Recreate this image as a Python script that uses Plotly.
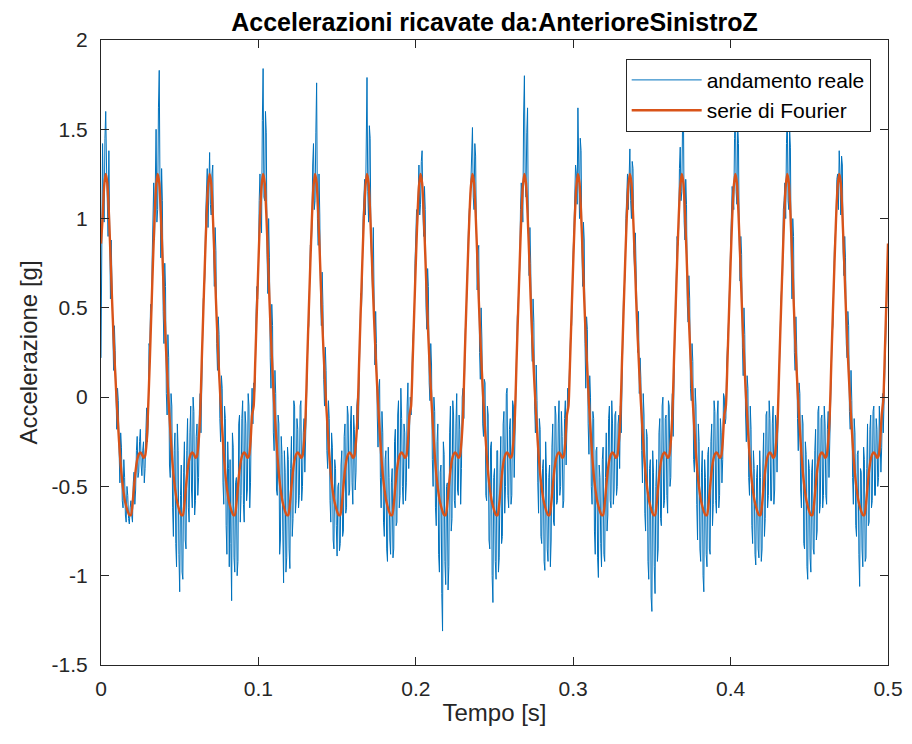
import numpy as np
import plotly.graph_objects as go

# ---------------- data ----------------
# measured signal: 1001 samples, 0.5 ms apart (0 .. 0.5 s)
time_real = np.linspace(0.0, 0.5, 1001)
# Fourier series: 501 samples, 1 ms apart
time_fourier = np.linspace(0.0, 0.5, 501)

# "andamento reale" (g), written cycle by cycle
real_c00 = [0.22, 0.95, 1.42, 1.10, 0.98, 1.45, 1.60, 1.30, 1.05, 0.90, 1.38, 1.02, 0.55, 0.88, 0.70, 0.38, 0.15, 0.40, 0.26, -0.05,
            -0.18, 0.05, -0.02, -0.30, -0.48, -0.20, -0.28, -0.58, -0.62, -0.35, -0.45, -0.66, -0.70, -0.50, -0.55, -0.68, -0.71, -0.62, -0.58, -0.66,
            -0.70, -0.48, -0.42, -0.60, -0.52, -0.30, -0.22, -0.45, -0.42, -0.25, -0.18, -0.38, -0.44, -0.30, -0.25, -0.48, -0.40, -0.20, -0.06, -0.25]
real_c01 = [-0.15, 0.30, 0.28, 0.52, 0.40, 0.78, 0.95, 1.20, 0.88, 1.32, 1.50, 0.98, 1.05, 1.62, 1.83, 1.15, 0.78, 1.28, 1.10, 0.48,
            0.30, 0.75, 0.62, 0.02, -0.10, 0.35, 0.22, -0.38, -0.45, 0.02, -0.05, -0.62, -0.78, -0.30, -0.20, -0.82, -0.95, -0.15, -0.30, -0.88,
            -1.09, -0.55, -0.38, -0.98, -1.02, -0.42, -0.25, -0.80, -0.85, -0.30, -0.12, -0.62, -0.70, -0.20, -0.05, -0.52, -0.62, 0.00, -0.08, -0.66,
            -0.58, -0.22, -0.15, -0.55, -0.45, -0.08, 0.02, -0.20]
real_c02 = [0.12, 0.40, 0.55, 0.58, 0.68, 1.02, 1.12, 1.28, 0.95, 1.15, 1.37, 1.08, 1.02, 1.25, 1.30, 0.85, 0.62, 0.95, 0.82, 0.30,
            0.15, 0.45, 0.35, -0.12, -0.25, 0.12, 0.05, -0.48, -0.60, -0.05, -0.12, -0.72, -0.88, -0.25, -0.40, -0.95, -0.35, -0.82, -1.14, -0.20,
            -0.28, -0.90, -0.98, -0.48, -0.45, -1.00, -0.92, -0.15, -0.10, -0.70, -0.55, -0.12, -0.02, -0.60, -0.70, -0.08, -0.15, -0.58, -0.52, 0.02,
            -0.05, -0.62, -0.48, -0.10, 0.05, -0.15]
real_c03 = [0.08, 0.02, 0.10, 0.45, 0.62, 0.55, 0.70, 1.10, 1.25, 1.05, 0.92, 1.55, 1.84, 1.12, 1.10, 1.60, 1.48, 0.80, 0.58, 1.00,
            0.78, 0.22, 0.05, 0.52, 0.40, -0.20, -0.30, 0.15, 0.02, -0.52, -0.55, -0.10, -0.15, -0.88, -0.80, -0.22, -0.32, -0.75, -1.04, -0.30,
            -0.42, -0.98, -0.90, -0.28, -0.35, -0.85, -0.96, -0.40, -0.22, -0.78, -0.68, -0.02, -0.05, -0.65, -0.58, -0.12, -0.18, -0.62, -0.55, -0.05,
            -0.02, -0.58, -0.50, -0.20, -0.12, -0.42, -0.20, 0.05]
real_c04 = [0.25, 0.35, 0.40, 0.72, 0.85, 0.82, 0.95, 1.30, 1.42, 1.05, 1.10, 1.48, 1.76, 1.00, 0.85, 1.25, 1.02, 0.55, 0.40, 0.70,
            0.52, 0.10, -0.05, 0.28, 0.15, -0.30, -0.40, -0.02, -0.12, -0.58, -0.70, -0.20, -0.28, -0.80, -0.85, -0.35, -0.40, -0.72, -0.89, -0.50,
            -0.48, -0.86, -0.82, -0.38, -0.30, -0.78, -0.75, -0.22, -0.15, -0.65, -0.62, -0.05, -0.10, -0.55, -0.52, -0.15, -0.05, -0.48, -0.60, -0.10,
            -0.18, -0.52, -0.42, -0.05, 0.00, -0.18]
real_c05 = [0.15, 0.42, 0.58, 0.50, 0.66, 1.00, 1.15, 1.22, 1.02, 1.38, 1.79, 1.15, 0.98, 1.52, 1.45, 0.88, 0.70, 0.60, 0.95, 0.28,
            0.18, 0.48, 0.30, -0.10, -0.28, 0.05, 0.10, -0.45, -0.62, -0.08, -0.20, -0.70, -0.78, -0.35, -0.30, -0.85, -0.92, -0.28, -0.45, -0.80,
            -0.88, -0.48, -0.40, -0.90, -0.85, -0.25, -0.18, -0.72, -0.70, -0.10, -0.02, -0.62, -0.55, 0.05, -0.12, -0.50, -0.60, -0.15, -0.20, -0.58,
            -0.48, -0.05, 0.08, -0.40, -0.25, 0.00]
real_c06 = [-0.10, 0.15, 0.30, 0.38, 0.42, 0.75, 0.88, 1.05, 0.92, 1.22, 1.30, 1.02, 1.08, 1.32, 1.38, 1.05, 0.90, 1.18, 1.05, 0.50,
            0.38, 0.72, 0.62, 0.08, -0.02, 0.30, 0.18, -0.35, -0.50, 0.00, -0.08, -0.62, -0.72, -0.25, -0.15, -0.88, -0.98, -0.42, -0.38, -1.10,
            -1.31, -0.25, -0.32, -0.92, -1.05, -0.50, -0.48, -1.08, -0.95, -0.20, -0.05, -0.75, -0.68, -0.02, -0.10, -0.58, -0.62, -0.15, 0.02, -0.52,
            -0.55, -0.10, -0.18, -0.60, -0.40, 0.00, 0.05, -0.12]
real_c07 = [0.22, 0.38, 0.45, 0.65, 0.80, 0.95, 1.05, 1.10, 1.20, 1.35, 1.51, 1.12, 1.05, 1.42, 1.35, 0.92, 0.60, 0.82, 0.85, 0.25,
            0.10, 0.50, 0.32, -0.15, -0.22, 0.10, 0.08, -0.55, -0.58, -0.05, -0.10, -0.80, -0.85, -0.28, -0.25, -1.00, -1.15, -0.45, -0.40, -0.92,
            -1.02, -0.30, -0.30, -0.98, -0.90, -0.42, -0.22, -0.82, -0.78, -0.15, -0.08, -0.65, -0.50, 0.02, 0.05, -0.55, -0.62, -0.18, -0.12, -0.60,
            -0.55, -0.02, -0.05, -0.45, -0.22, 0.08]
real_c08 = [0.18, 0.45, 0.52, 0.60, 0.72, 1.05, 1.20, 1.12, 0.98, 1.58, 1.80, 1.20, 1.12, 1.48, 1.62, 0.95, 0.68, 0.95, 0.75, 0.35,
            0.20, 0.55, 0.42, -0.05, -0.20, 0.18, -0.02, -0.48, -0.65, -0.12, -0.18, -0.78, -0.82, -0.40, -0.35, -0.92, -0.97, -0.25, -0.42, -0.85,
            -0.92, -0.45, -0.38, -0.95, -0.80, -0.28, -0.15, -0.70, -0.72, -0.05, -0.10, -0.60, -0.58, -0.15, -0.02, -0.55, -0.50, -0.08, -0.22, -0.62,
            -0.58, -0.12, -0.02, -0.38, -0.18, 0.05]
real_c09 = [-0.02, 0.12, 0.28, 0.40, 0.40, 0.70, 0.82, 0.95, 1.10, 1.30, 1.25, 1.08, 1.62, 1.22, 1.00, 1.45, 1.38, 0.85, 0.62, 0.98,
            0.88, 0.30, 0.05, 0.45, 0.38, -0.15, -0.32, 0.12, 0.00, -0.50, -0.60, -0.08, -0.12, -0.75, -0.88, -0.30, -0.28, -0.90, -1.01, -0.38,
            -0.45, -0.82, -0.95, -0.35, -0.28, -0.88, -0.92, -0.45, -0.20, -0.75, -0.66, -0.12, -0.05, -0.58, -0.62, -0.02, -0.15, -0.60, -0.52, -0.10,
            -0.08, -0.55, -0.50, -0.15, -0.10, -0.40, -0.05, -0.20]
real_c10 = [0.12, 0.42, 0.58, 0.62, 0.70, 1.00, 1.12, 1.25, 1.05, 1.30, 1.39, 1.10, 1.00, 1.32, 1.28, 0.82, 0.72, 0.92, 0.65, 0.30,
            0.25, 0.48, 0.02, 0.22, 0.10, -0.30, -0.48, 0.02, -0.10, -0.65, -0.75, -0.18, -0.22, -0.92, -1.02, -0.40, -0.35, -1.12, -1.20, -0.30,
            -0.42, -0.95, -1.10, -0.50, -0.35, -0.92, -0.85, -0.20, -0.12, -0.68, -0.72, -0.05, 0.00, -0.62, -0.58, -0.12, -0.10, -0.55, -0.65, -0.02,
            -0.05, -0.50, -0.45, -0.10, 0.02, -0.22]
real_c11 = [0.25, 0.32, 0.42, 0.75, 0.90, 0.85, 0.95, 1.28, 1.40, 1.10, 1.15, 1.55, 1.65, 0.98, 0.88, 1.22, 1.08, 0.52, 0.42, 0.68,
            0.55, 0.05, -0.02, 0.30, 0.20, -0.35, -0.42, 0.05, -0.05, -0.60, -0.80, -0.15, -0.25, -0.85, -0.92, -0.42, -0.30, -1.00, -1.09, -0.35,
            -0.45, -0.88, -0.95, -0.32, -0.28, -0.85, -0.88, -0.25, -0.15, -0.72, -0.60, -0.02, -0.08, -0.58, -0.65, -0.10, -0.02, -0.62, -0.55, -0.12,
            -0.20, -0.48, -0.35, 0.02, 0.00, -0.15]
real_c12 = [-0.12, 0.18, 0.25, 0.38, 0.50, 0.68, 0.72, 1.02, 1.18, 1.12, 1.05, 1.45, 1.70, 1.15, 1.08, 1.52, 1.42, 0.88, 0.65, 0.90,
            0.80, 0.28, 0.12, 0.50, 0.35, -0.10, -0.25, 0.12, 0.05, -0.45, -0.55, -0.05, -0.18, -0.72, -0.82, -0.30, -0.40, -0.88, -0.94, -0.45,
            -0.38, -0.85, -0.90, -0.30, -0.45, -0.92, -0.85, -0.38, -0.20, -0.78, -0.68, -0.10, -0.08, -0.62, -0.55, -0.02, -0.12, -0.58, -0.58, -0.15,
            -0.05, -0.60, -0.52, -0.10, -0.15, -0.42, -0.08, 0.05]
real_c13 = [0.15, 0.40, 0.55, 0.62, 0.68, 1.05, 1.10, 1.20, 1.00, 1.42, 1.62, 1.10, 1.05, 1.50, 1.40, 0.78, 0.55, 1.00, 0.90, 0.25,
            0.15, 0.45, 0.28, -0.12, -0.30, 0.08, 0.02, -0.52, -0.62, -0.10, -0.15, -0.82, -0.85, -0.25, -0.32, -0.95, -1.02, -0.35, -0.40, -0.90,
            -0.98, -0.42, -0.35, -0.85, -0.88, -0.30, -0.18, -0.80, -0.75, -0.08, -0.05, -0.65, -0.60, -0.12, -0.10, -0.62, -0.55, -0.05, -0.15, -0.55,
            -0.60, -0.18, -0.08, -0.45, -0.20, 0.02]
real_c14 = [0.28, 0.35, 0.40, 0.70, 0.85, 0.90, 0.98, 1.22, 1.25, 1.05, 1.38, 1.25, 1.02, 1.35, 1.30, 0.82, 0.68, 0.90, 0.78, 0.30,
            0.22, 0.48, 0.40, -0.08, -0.18, 0.15, -0.02, -0.45, -0.60, -0.12, -0.20, -0.72, -0.78, -0.32, -0.30, -0.88, -1.06, -0.40, -0.42, -0.85,
            -0.95, -0.28, -0.35, -0.92, -0.90, -0.40, -0.15, -0.72, -0.70, -0.18, -0.10, -0.62, -0.58, -0.08, -0.05, -0.55, -0.55, -0.12, -0.18, -0.50,
            -0.45, -0.05, -0.22, -0.42, -0.28, 0.02]
real_tail = [-0.20, 0.05, 0.15, 0.30, 0.45, 0.62, 0.80]

# "serie di Fourier" (g), cycle by cycle
four_c00 = [0.86, 1.00, 1.18, 1.25, 1.20, 1.03, 0.80, 0.55, 0.33, 0.14, -0.03, -0.18, -0.32, -0.43, -0.51, -0.57, -0.61, -0.64, -0.66, -0.66, -0.60, -0.50, -0.41, -0.35, -0.32, -0.31, -0.32, -0.34, -0.33, -0.25]
four_c01 = [-0.05, 0.20, 0.48, 0.75, 1.00, 1.18, 1.25, 1.20, 1.03, 0.80, 0.55, 0.33, 0.14, -0.03, -0.18, -0.32, -0.43, -0.51, -0.57, -0.61, -0.64, -0.66, -0.66, -0.60, -0.50, -0.41, -0.35, -0.32, -0.31, -0.32, -0.34, -0.33, -0.25, -0.10]
four_c02 = [0.20, 0.48, 0.75, 1.00, 1.18, 1.25, 1.20, 1.03, 0.80, 0.55, 0.33, 0.14, -0.03, -0.18, -0.32, -0.43, -0.51, -0.57, -0.61, -0.64, -0.66, -0.66, -0.60, -0.50, -0.41, -0.35, -0.32, -0.31, -0.32, -0.34, -0.33, -0.25, -0.10]
four_c03 = [-0.05, 0.20, 0.48, 0.75, 1.00, 1.18, 1.25, 1.20, 1.03, 0.80, 0.55, 0.33, 0.14, -0.03, -0.18, -0.32, -0.43, -0.51, -0.57, -0.61, -0.64, -0.66, -0.66, -0.60, -0.50, -0.41, -0.35, -0.32, -0.31, -0.32, -0.34, -0.33, -0.25, -0.10]
four_c04 = [0.20, 0.48, 0.75, 1.00, 1.18, 1.25, 1.20, 1.03, 0.80, 0.55, 0.33, 0.14, -0.03, -0.18, -0.32, -0.43, -0.51, -0.57, -0.61, -0.64, -0.66, -0.66, -0.60, -0.50, -0.41, -0.35, -0.32, -0.31, -0.32, -0.34, -0.33, -0.25, -0.10]
four_c05 = [0.20, 0.48, 0.75, 1.00, 1.18, 1.25, 1.20, 1.03, 0.80, 0.55, 0.33, 0.14, -0.03, -0.18, -0.32, -0.43, -0.51, -0.57, -0.61, -0.64, -0.66, -0.66, -0.60, -0.50, -0.41, -0.35, -0.32, -0.31, -0.32, -0.34, -0.33, -0.25, -0.10]
four_c06 = [-0.05, 0.20, 0.48, 0.75, 1.00, 1.18, 1.25, 1.20, 1.03, 0.80, 0.55, 0.33, 0.14, -0.03, -0.18, -0.32, -0.43, -0.51, -0.57, -0.61, -0.64, -0.66, -0.66, -0.60, -0.50, -0.41, -0.35, -0.32, -0.31, -0.32, -0.34, -0.33, -0.25, -0.10]
four_c07 = [0.20, 0.48, 0.75, 1.00, 1.18, 1.25, 1.20, 1.03, 0.80, 0.55, 0.33, 0.14, -0.03, -0.18, -0.32, -0.43, -0.51, -0.57, -0.61, -0.64, -0.66, -0.66, -0.60, -0.50, -0.41, -0.35, -0.32, -0.31, -0.32, -0.34, -0.33, -0.25, -0.10]
four_c08 = [0.20, 0.48, 0.75, 1.00, 1.18, 1.25, 1.20, 1.03, 0.80, 0.55, 0.33, 0.14, -0.03, -0.18, -0.32, -0.43, -0.51, -0.57, -0.61, -0.64, -0.66, -0.66, -0.60, -0.50, -0.41, -0.35, -0.32, -0.31, -0.32, -0.34, -0.33, -0.25, -0.10]
four_c09 = [-0.05, 0.20, 0.48, 0.75, 1.00, 1.18, 1.25, 1.20, 1.03, 0.80, 0.55, 0.33, 0.14, -0.03, -0.18, -0.32, -0.43, -0.51, -0.57, -0.61, -0.64, -0.66, -0.66, -0.60, -0.50, -0.41, -0.35, -0.32, -0.31, -0.32, -0.34, -0.33, -0.25, -0.10]
four_c10 = [0.20, 0.48, 0.75, 1.00, 1.18, 1.25, 1.20, 1.03, 0.80, 0.55, 0.33, 0.14, -0.03, -0.18, -0.32, -0.43, -0.51, -0.57, -0.61, -0.64, -0.66, -0.66, -0.60, -0.50, -0.41, -0.35, -0.32, -0.31, -0.32, -0.34, -0.33, -0.25, -0.10]
four_c11 = [0.20, 0.48, 0.75, 1.00, 1.18, 1.25, 1.20, 1.03, 0.80, 0.55, 0.33, 0.14, -0.03, -0.18, -0.32, -0.43, -0.51, -0.57, -0.61, -0.64, -0.66, -0.66, -0.60, -0.50, -0.41, -0.35, -0.32, -0.31, -0.32, -0.34, -0.33, -0.25, -0.10]
four_c12 = [-0.05, 0.20, 0.48, 0.75, 1.00, 1.18, 1.25, 1.20, 1.03, 0.80, 0.55, 0.33, 0.14, -0.03, -0.18, -0.32, -0.43, -0.51, -0.57, -0.61, -0.64, -0.66, -0.66, -0.60, -0.50, -0.41, -0.35, -0.32, -0.31, -0.32, -0.34, -0.33, -0.25, -0.10]
four_c13 = [0.20, 0.48, 0.75, 1.00, 1.18, 1.25, 1.20, 1.03, 0.80, 0.55, 0.33, 0.14, -0.03, -0.18, -0.32, -0.43, -0.51, -0.57, -0.61, -0.64, -0.66, -0.66, -0.60, -0.50, -0.41, -0.35, -0.32, -0.31, -0.32, -0.34, -0.33, -0.25, -0.10]
four_c14 = [0.20, 0.48, 0.75, 1.00, 1.18, 1.25, 1.20, 1.03, 0.80, 0.55, 0.33, 0.14, -0.03, -0.18, -0.32, -0.43, -0.51, -0.57, -0.61, -0.64, -0.66, -0.66, -0.60, -0.50, -0.41, -0.35, -0.32, -0.31, -0.32, -0.34, -0.33, -0.25, -0.10]
four_tail = [-0.02, 0.25, 0.55, 0.86]

x_tick_vals = [0, 0.1, 0.2, 0.3, 0.4, 0.5]
x_tick_text = ["0", "0.1", "0.2", "0.3", "0.4", "0.5"]
y_tick_vals = [-1.5, -1, -0.5, 0, 0.5, 1, 1.5, 2]
y_tick_text = ["-1.5", "-1", "-0.5", "0", "0.5", "1", "1.5", "2"]

# ---------------- assemble ----------------
accel_real = (real_c00 + real_c01 + real_c02 + real_c03 + real_c04 + real_c05 + real_c06 + real_c07
              + real_c08 + real_c09 + real_c10 + real_c11 + real_c12 + real_c13 + real_c14 + real_tail)
accel_fourier = (four_c00 + four_c01 + four_c02 + four_c03 + four_c04 + four_c05 + four_c06 + four_c07
                 + four_c08 + four_c09 + four_c10 + four_c11 + four_c12 + four_c13 + four_c14 + four_tail)
if len(accel_real) != len(time_real) or len(accel_fourier) != len(time_fourier):
    raise SystemExit(f"length mismatch {len(accel_real)} {len(accel_fourier)}")

FONT = "Liberation Sans, Arial, Helvetica, sans-serif"
AX = "#262626"

fig = go.Figure()
fig.add_trace(go.Scatter(x=time_real, y=accel_real, mode="lines", name="andamento reale",
                         line=dict(color="#0072BD", width=1.0)))
fig.add_trace(go.Scatter(x=time_fourier, y=accel_fourier, mode="lines", name="serie di Fourier",
                         line=dict(color="#D95319", width=2.4, shape="spline", smoothing=0.6)))

fig.update_layout(
    width=912, height=744,
    paper_bgcolor="white", plot_bgcolor="white",
    margin=dict(l=93, r=32, t=32, b=87),
    font=dict(family=FONT, color=AX),
    title=dict(text="<b>Accelerazioni ricavate da:AnterioreSinistroZ</b>",
               font=dict(family=FONT, size=25, color="black"),
               x=0.5, xref="paper", xanchor="center",
               y=1 - 14 / 744, yref="container", yanchor="middle"),
    showlegend=True,
    legend=dict(x=0.978, y=0.97, xanchor="right", yanchor="top",
                bgcolor="white", bordercolor=AX, borderwidth=1,
                font=dict(family=FONT, size=21, color="black"),
                tracegroupgap=0, itemwidth=70),
)
fig.update_xaxes(range=[0, 0.5], tickvals=x_tick_vals, ticktext=x_tick_text,
                 ticks="inside", ticklen=8, tickcolor=AX, tickwidth=1,
                 showline=True, linecolor=AX, linewidth=1, mirror="ticks",
                 showgrid=False, zeroline=False,
                 tickfont=dict(family=FONT, size=21, color=AX),
                 ticklabelstandoff=5,
                 title=dict(text="Tempo [s]", font=dict(family=FONT, size=24, color=AX), standoff=4))
fig.update_yaxes(range=[-1.5, 2], tickvals=y_tick_vals, ticktext=y_tick_text,
                 ticks="inside", ticklen=8, tickcolor=AX, tickwidth=1,
                 showline=True, linecolor=AX, linewidth=1, mirror="ticks",
                 showgrid=False, zeroline=False,
                 tickfont=dict(family=FONT, size=21, color=AX),
                 ticklabelstandoff=8,
                 title=dict(text="Accelerazione [g]", font=dict(family=FONT, size=24, color=AX), standoff=7))

fig.write_html("out.html")
